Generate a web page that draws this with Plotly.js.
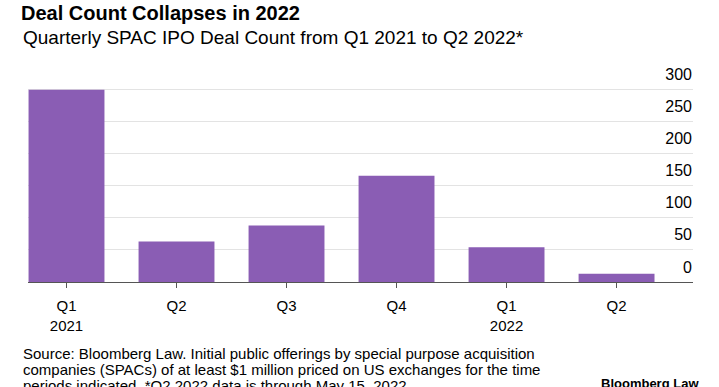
<!DOCTYPE html>
<html>
<head>
<meta charset="utf-8">
<script src="https://cdn.plot.ly/plotly-3.0.1.min.js"></script>
<style>html,body{margin:0;padding:0;background:#fff;}#chart{width:719px;height:387px;}</style>
</head>
<body>
<div id="chart"></div>
<script>
// Data
const quarters = ["Q1 2021", "Q2 2021", "Q3 2021", "Q4 2021", "Q1 2022", "Q2 2022"];
const tickLabels = ["Q1<br>2021", "Q2", "Q3", "Q4", "Q1<br>2022", "Q2"];
const dealCounts = [299, 63, 88, 165, 54, 13];
const yTicks = [0, 50, 100, 150, 200, 250, 300];

const titleText = "Deal Count Collapses in 2022";
const subtitleText = "Quarterly SPAC IPO Deal Count from Q1 2021 to Q2 2022*";
const footLines = [
  "Source: Bloomberg Law. Initial public offerings by special purpose acquisition",
  "companies (SPACs) of at least $1 million priced on US exchanges for the time",
  "periods indicated. *Q2 2022 data is through May 15, 2022."
];

const FONT = "Liberation Sans, Arial, Helvetica, sans-serif";
const W = 719, H = 387;
const TOP = 62, BOT = 105;

const trace = {
  type: "bar",
  x: quarters,
  y: dealCounts,
  marker: {color: "#8a5db4", line: {width: 0}},
  hoverinfo: "x+y"
};

const annotations = [
  {text: subtitleText, xref: "paper", yref: "paper", x: 0, y: 1, xanchor: "left", yanchor: "middle",
   xshift: -7, yshift: (TOP - 37), showarrow: false, font: {family: FONT, size: 19, color: "#000"}},
];
footLines.forEach((t, i) => {
  annotations.push({text: t, xref: "paper", yref: "paper", x: 0, y: 0, xanchor: "left", yanchor: "middle",
    xshift: -7, yshift: -(353 + 16 * i - (H - BOT)), showarrow: false,
    font: {family: FONT, size: 15, color: "#000"}});
});
annotations.push({text: "<b>Bloomberg Law</b>", xref: "paper", yref: "paper", x: 1, y: 0, xanchor: "right", yanchor: "middle",
  xshift: 8, yshift: -(383 - (H - BOT)), showarrow: false, font: {family: FONT, size: 13, color: "#000"}});

const layout = {
  width: W, height: H,
  margin: {l: 28, r: 26, t: TOP, b: BOT},
  paper_bgcolor: "#fff", plot_bgcolor: "#fff",
  showlegend: false,
  bargap: 0.31,
  title: {text: "<b>" + titleText + "</b>", xref: "container", yref: "container",
          x: 21 / W, xanchor: "left", y: 1 - 13 / H, yanchor: "middle",
          font: {family: FONT, size: 20, color: "#000"}},
  xaxis: {
    type: "category",
    range: [-0.35, 5.695],
    tickmode: "array", tickvals: quarters, ticktext: tickLabels,
    ticks: "outside", ticklen: 5, tickwidth: 1, tickcolor: "#555",
    ticklabelstandoff: 5,
    showline: true, linecolor: "#555", linewidth: 1,
    showgrid: false, zeroline: false,
    tickfont: {family: FONT, size: 15, color: "#000"},
    fixedrange: true
  },
  yaxis: {
    range: [0, 300 * (387 - BOT - TOP) / 193],
    side: "right",
    tickmode: "array", tickvals: yTicks, ticktext: yTicks.map(String),
    ticklabelposition: "inside",
    ticklabelshift: -15,
    ticklabelstandoff: -2,
    ticks: "",
    showgrid: true, gridcolor: "#e3e3e3", gridwidth: 1,
    zeroline: false, showline: false,
    tickfont: {family: FONT, size: 16, color: "#000"},
    fixedrange: true
  },
  annotations: annotations
};

Plotly.newPlot("chart", [trace], layout, {displayModeBar: false, staticPlot: true});
</script>
</body>
</html>
